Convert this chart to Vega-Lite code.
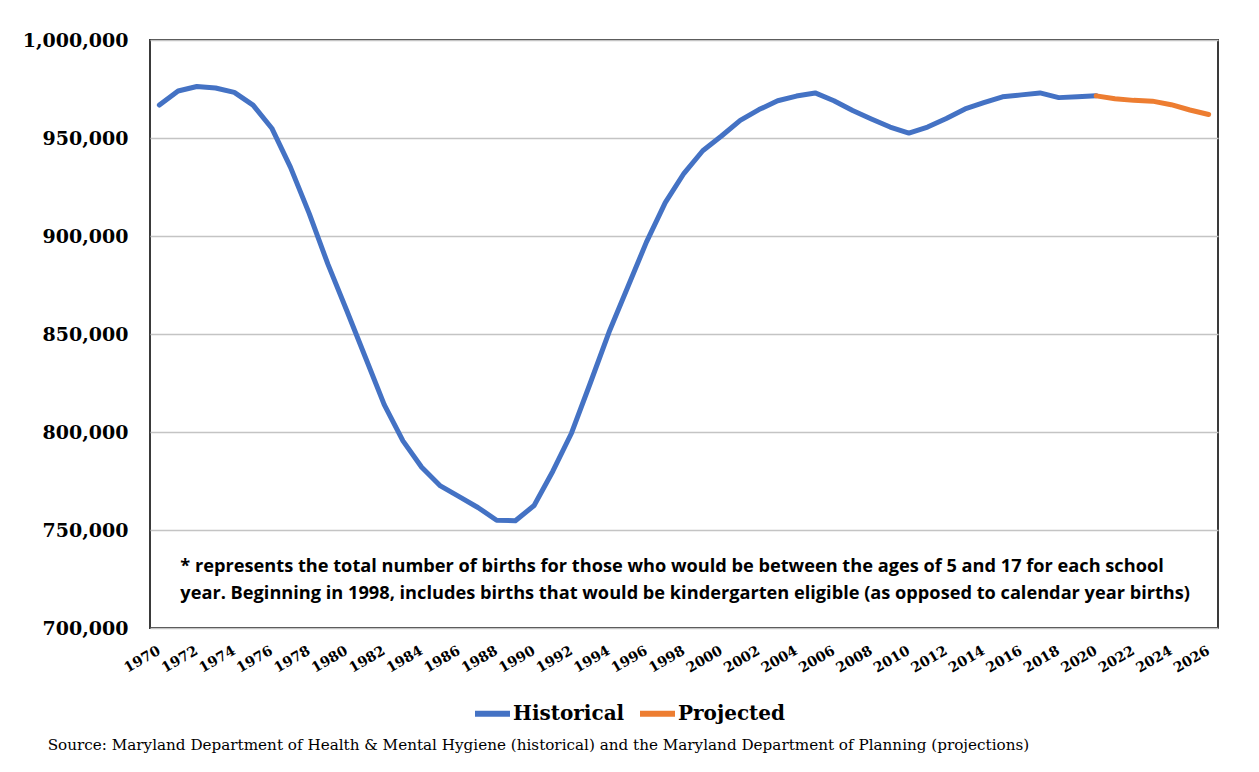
{
  "$schema": "https://vega.github.io/schema/vega-lite/v6.json",
  "width": 1068,
  "height": 588,
  "autosize": {"type": "none"},
  "padding": {"left": 150, "top": 40, "right": 41, "bottom": 144},
  "background": "white",
  "config": {
    "view": {"stroke": "#3a3a3a", "strokeWidth": 2},
    "axis": {"domain": false, "ticks": false, "title": null},
    "axisX": {"grid": false, "labels": false},
    "axisY": {
      "format": ",d", "gridColor": "#c4c4c4", "gridWidth": 1.5,
      "labelPadding": 22, "labelFont": "DejaVu Serif", "labelFontWeight": "bold",
      "labelFontSize": 19, "labelColor": "#000000"
    }
  },
  "datasets": {
    "births": [
      {"year": 1970, "births": 966800, "series": "Historical"},
      {"year": 1971, "births": 974000, "series": "Historical"},
      {"year": 1972, "births": 976300, "series": "Historical"},
      {"year": 1973, "births": 975500, "series": "Historical"},
      {"year": 1974, "births": 973300, "series": "Historical"},
      {"year": 1975, "births": 966800, "series": "Historical"},
      {"year": 1976, "births": 955000, "series": "Historical"},
      {"year": 1977, "births": 935000, "series": "Historical"},
      {"year": 1978, "births": 911400, "series": "Historical"},
      {"year": 1979, "births": 885500, "series": "Historical"},
      {"year": 1980, "births": 862000, "series": "Historical"},
      {"year": 1981, "births": 838000, "series": "Historical"},
      {"year": 1982, "births": 814000, "series": "Historical"},
      {"year": 1983, "births": 795500, "series": "Historical"},
      {"year": 1984, "births": 782000, "series": "Historical"},
      {"year": 1985, "births": 772500, "series": "Historical"},
      {"year": 1986, "births": 767000, "series": "Historical"},
      {"year": 1987, "births": 761500, "series": "Historical"},
      {"year": 1988, "births": 755000, "series": "Historical"},
      {"year": 1989, "births": 754700, "series": "Historical"},
      {"year": 1990, "births": 762500, "series": "Historical"},
      {"year": 1991, "births": 780000, "series": "Historical"},
      {"year": 1992, "births": 799500, "series": "Historical"},
      {"year": 1993, "births": 825000, "series": "Historical"},
      {"year": 1994, "births": 851000, "series": "Historical"},
      {"year": 1995, "births": 874000, "series": "Historical"},
      {"year": 1996, "births": 897000, "series": "Historical"},
      {"year": 1997, "births": 917000, "series": "Historical"},
      {"year": 1998, "births": 932000, "series": "Historical"},
      {"year": 1999, "births": 943500, "series": "Historical"},
      {"year": 2000, "births": 951000, "series": "Historical"},
      {"year": 2001, "births": 959000, "series": "Historical"},
      {"year": 2002, "births": 964500, "series": "Historical"},
      {"year": 2003, "births": 969000, "series": "Historical"},
      {"year": 2004, "births": 971400, "series": "Historical"},
      {"year": 2005, "births": 973000, "series": "Historical"},
      {"year": 2006, "births": 969000, "series": "Historical"},
      {"year": 2007, "births": 964000, "series": "Historical"},
      {"year": 2008, "births": 959700, "series": "Historical"},
      {"year": 2009, "births": 955600, "series": "Historical"},
      {"year": 2010, "births": 952500, "series": "Historical"},
      {"year": 2011, "births": 955600, "series": "Historical"},
      {"year": 2012, "births": 960000, "series": "Historical"},
      {"year": 2013, "births": 964800, "series": "Historical"},
      {"year": 2014, "births": 968000, "series": "Historical"},
      {"year": 2015, "births": 971000, "series": "Historical"},
      {"year": 2016, "births": 972000, "series": "Historical"},
      {"year": 2017, "births": 973000, "series": "Historical"},
      {"year": 2018, "births": 970600, "series": "Historical"},
      {"year": 2019, "births": 971000, "series": "Historical"},
      {"year": 2020, "births": 971500, "series": "Historical"},
      {"year": 2020, "births": 971500, "series": "Projected"},
      {"year": 2021, "births": 970000, "series": "Projected"},
      {"year": 2022, "births": 969200, "series": "Projected"},
      {"year": 2023, "births": 968800, "series": "Projected"},
      {"year": 2024, "births": 967000, "series": "Projected"},
      {"year": 2025, "births": 964300, "series": "Projected"},
      {"year": 2026, "births": 962000, "series": "Projected"}
    ],
    "yearLabels": [
      {"year": 1970}, {"year": 1972}, {"year": 1974}, {"year": 1976}, {"year": 1978},
      {"year": 1980}, {"year": 1982}, {"year": 1984}, {"year": 1986}, {"year": 1988},
      {"year": 1990}, {"year": 1992}, {"year": 1994}, {"year": 1996}, {"year": 1998},
      {"year": 2000}, {"year": 2002}, {"year": 2004}, {"year": 2006}, {"year": 2008},
      {"year": 2010}, {"year": 2012}, {"year": 2014}, {"year": 2016}, {"year": 2018},
      {"year": 2020}, {"year": 2022}, {"year": 2024}, {"year": 2026}
    ]
  },
  "layer": [
    {
      "data": {"name": "births"},
      "mark": {"type": "line", "strokeWidth": 5, "strokeCap": "round", "strokeJoin": "round"},
      "encoding": {
        "x": {
          "field": "year", "type": "quantitative",
          "scale": {"domain": [1969.5, 2026.5], "nice": false, "zero": false}
        },
        "y": {
          "field": "births", "type": "quantitative",
          "scale": {"domain": [700000, 1000000], "nice": false, "zero": false},
          "axis": {
            "values": [700000, 750000, 800000, 850000, 900000, 950000, 1000000]
          }
        },
        "color": {
          "field": "series", "type": "nominal",
          "scale": {"domain": ["Historical", "Projected"], "range": ["#4472C4", "#ED7D31"]},
          "legend": {
            "title": null, "orient": "none", "direction": "horizontal",
            "legendX": 322, "legendY": 653,
            "symbolType": "stroke", "symbolStrokeWidth": 6, "symbolSize": 1225,
            "labelFont": "DejaVu Serif", "labelFontWeight": "bold", "labelFontSize": 20,
            "labelColor": "#000000", "labelOffset": 0, "columnPadding": 3
          }
        }
      }
    },
    {
      "data": {"name": "yearLabels"},
      "mark": {
        "type": "text", "align": "right", "baseline": "middle", "angle": -30,
        "font": "DejaVu Serif", "fontWeight": "bold", "fontSize": 14, "fill": "#000000"
      },
      "encoding": {
        "x": {"field": "year", "type": "quantitative"},
        "y": {"datum": 688800, "type": "quantitative"},
        "text": {"field": "year", "type": "quantitative", "format": "d"}
      }
    },
    {
      "data": {"name": "yearLabels"},
      "mark": {
        "type": "text", "align": "left", "baseline": "top", "lineHeight": 27,
        "font": "Open Sans", "fontWeight": "bold", "fontSize": 18.2, "fill": "#000000",
        "text": [
          "* represents the total number of births for those who would be between the ages of 5 and 17 for each school",
          "year.  Beginning in 1998, includes births that would be kindergarten eligible (as opposed to calendar year births)"
        ]
      },
      "transform": [{"filter": "datum.year == 1970"}],
      "encoding": {
        "x": {"datum": 1971.12, "type": "quantitative"},
        "y": {"datum": 735500, "type": "quantitative"}
      }
    },
    {
      "data": {"name": "yearLabels"},
      "mark": {
        "type": "text", "align": "left", "baseline": "middle",
        "font": "DejaVu Serif", "fontSize": 15.2, "fill": "#000000",
        "text": "Source: Maryland Department of Health & Mental Hygiene (historical) and the Maryland Department of Planning (projections)"
      },
      "transform": [{"filter": "datum.year == 1970"}],
      "encoding": {
        "x": {"datum": 1964.04, "type": "quantitative"},
        "y": {"datum": 640300, "type": "quantitative"}
      }
    }
  ]
}
